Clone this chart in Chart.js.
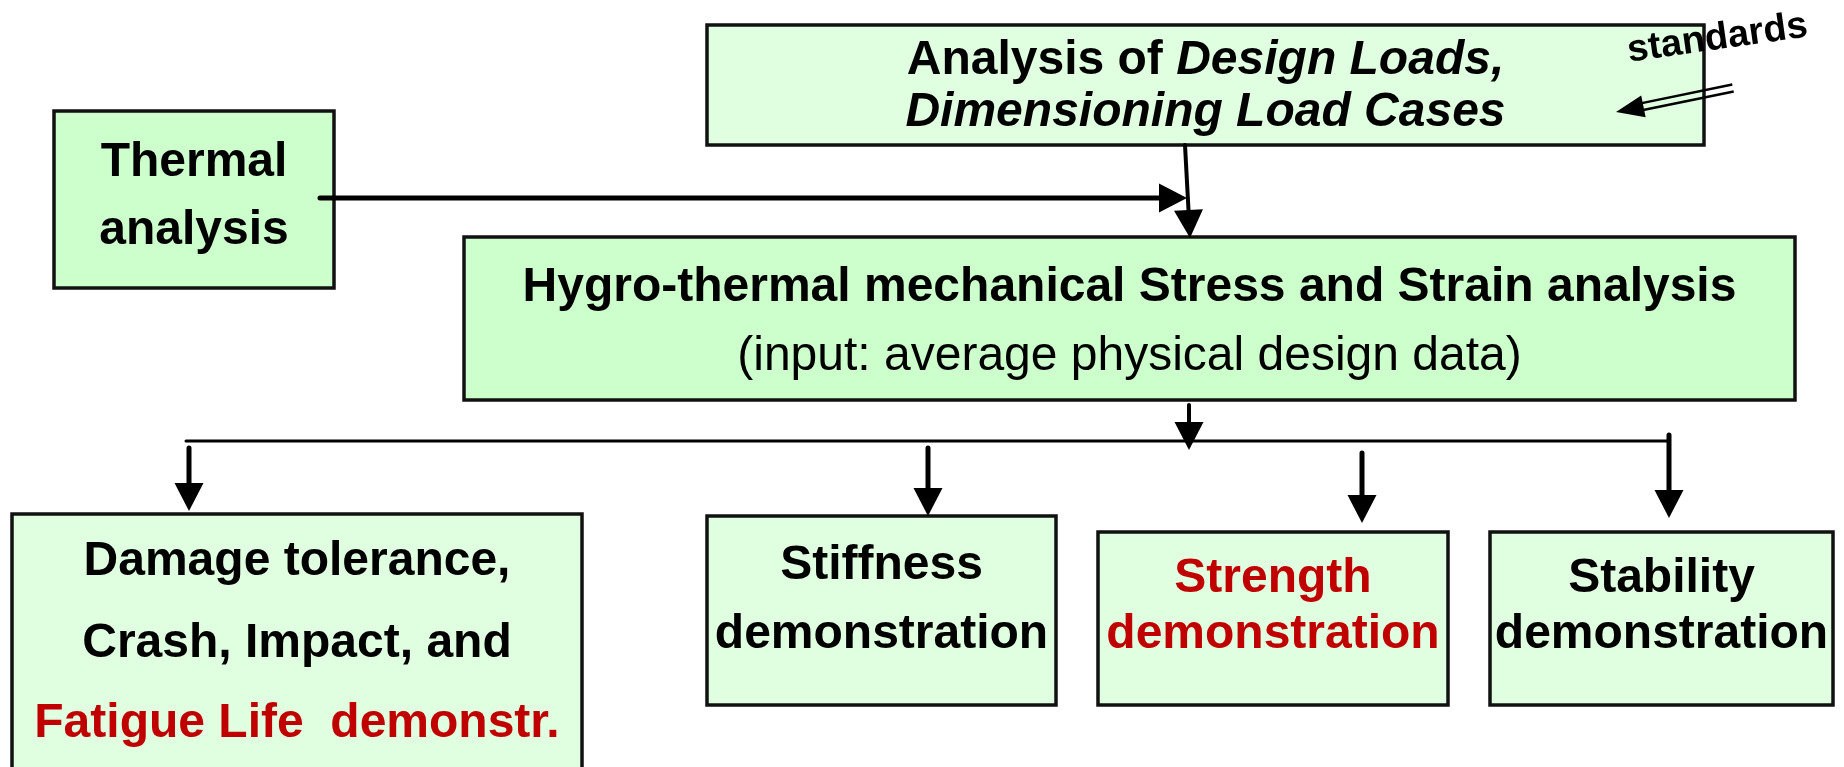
<!DOCTYPE html>
<html>
<head>
<meta charset="utf-8">
<script src="https://cdn.jsdelivr.net/npm/chart.js@4.4.1/dist/chart.umd.min.js"></script>
<style>
  html, body { margin: 0; padding: 0; background: #fff; }
  #wrap { width: 1844px; height: 767px; position: relative; }
</style>
</head>
<body>
<div id="wrap"><canvas id="flowChart"></canvas></div>
<script>
// Texte der Kästen (eine Zeile pro Eintrag)
const boxNames = ['design', 'thermal', 'hygro', 'damage', 'stiffness', 'strength', 'stability'];
const boxLines = [
  ['Analysis of Design Loads,', 'Dimensioning Load Cases'],
  ['Thermal', 'analysis'],
  ['Hygro-thermal mechanical Stress and Strain analysis', '(input: average physical design data)'],
  ['Damage tolerance,', 'Crash, Impact, and', 'Fatigue Life  demonstr.'],
  ['Stiffness', 'demonstration'],
  ['Strength', 'demonstration'],
  ['Stability', 'demonstration']
];
const italicPhrases = ['Design Loads,', 'Dimensioning Load Cases'];
const redLines = { damage: [2], strength: [0, 1] };
const sideNote = 'standards';

// Verbindungen: [von, nach]
const links = [
  ['thermal', 'hygro'],
  ['design', 'hygro'],
  ['hygro', 'bus'],
  ['bus', 'damage'],
  ['bus', 'stiffness'],
  ['bus', 'strength'],
  ['bus', 'stability']
];

// ---- Layout (Diagrammkoordinaten 0..1844 x 0..767) ----
const layout = {
  design:    { rect: [707, 25, 1704, 145],  fill: '#e0ffe0', base: [74, 126] },
  thermal:   { rect: [54, 111, 334, 288],   fill: '#ccffcc', base: [176, 244] },
  hygro:     { rect: [464, 237, 1795, 400], fill: '#ccffcc', base: [301, 370] },
  damage:    { rect: [12, 514, 582, 790],   fill: '#e0ffe0', base: [575, 657, 737] },
  stiffness: { rect: [707, 516, 1056, 705], fill: '#e0ffe0', base: [579, 648] },
  strength:  { rect: [1098, 532, 1448, 705], fill: '#e0ffe0', base: [592, 648] },
  stability: { rect: [1490, 532, 1833, 705], fill: '#e0ffe0', base: [592, 648] }
};
const arrowPaths = [
  { p: [320, 198, 1187, 198], w: 5, head: true },
  { p: [1185, 145, 1190, 238], w: 4, head: true },
  { p: [1189, 405, 1189, 450], w: 4, head: true },
  { p: [186, 441, 1669, 441], w: 3, head: false },
  { p: [189, 448, 189, 511], w: 5, head: true },
  { p: [928, 448, 928, 516], w: 5, head: true },
  { p: [1362, 453, 1362, 523], w: 5, head: true },
  { p: [1669, 435, 1669, 518], w: 5, head: true }
];
const notePos = { text: [1719, 49], angle: -8, arrow: [1733, 88, 1616, 112] };

const FONT = '"Liberation Sans", Arial, Helvetica, sans-serif';

function splitRuns(line) {
  for (const ph of italicPhrases) {
    const i = line.indexOf(ph);
    if (i >= 0) {
      const runs = [];
      if (i > 0) runs.push({ t: line.slice(0, i), it: false });
      runs.push({ t: ph, it: true });
      if (i + ph.length < line.length) runs.push({ t: line.slice(i + ph.length), it: false });
      return runs;
    }
  }
  return [{ t: line, it: false }];
}

const flowPlugin = {
  id: 'flow',
  afterDatasetsDraw(chart) {
    const ctx = chart.ctx;
    const xs = chart.scales.x, ys = chart.scales.y;
    const X = v => xs.getPixelForValue(v);
    const Y = v => ys.getPixelForValue(v);

    function arrow(x1, y1, x2, y2, w, head) {
      const ax = X(x1), ay = Y(y1), bx = X(x2), by = Y(y2);
      const dx = bx - ax, dy = by - ay, len = Math.hypot(dx, dy);
      const ux = dx / len, uy = dy / len;
      const hl = head ? 28 : 0, hw = 14.5;
      ctx.strokeStyle = '#000';
      ctx.lineWidth = w;
      ctx.lineCap = 'round';
      ctx.beginPath();
      ctx.moveTo(ax, ay);
      ctx.lineTo(bx - ux * hl * 0.6, by - uy * hl * 0.6);
      ctx.stroke();
      if (head) {
        ctx.fillStyle = '#000';
        ctx.beginPath();
        ctx.moveTo(bx, by);
        ctx.lineTo(bx - ux * hl - uy * hw, by - uy * hl + ux * hw);
        ctx.lineTo(bx - ux * hl + uy * hw, by - uy * hl - ux * hw);
        ctx.closePath();
        ctx.fill();
      }
    }

    ctx.save();
    // Kästen
    boxNames.forEach((name, bi) => {
      const L = layout[name];
      const [x1, y1, x2, y2] = L.rect;
      const px = X(x1), py = Y(y1), pw = X(x2) - px, ph = Y(y2) - py;
      ctx.fillStyle = L.fill;
      ctx.fillRect(px, py, pw, ph);
      ctx.strokeStyle = '#111';
      ctx.lineWidth = 3.5;
      ctx.strokeRect(px, py, pw, ph);

      const cx = X((x1 + x2) / 2);
      boxLines[bi].forEach((line, li) => {
        const weight = (name === 'hygro' && li === 1) ? 'normal' : 'bold';
        const red = (redLines[name] || []).includes(li);
        const runs = splitRuns(line);
        let total = 0;
        runs.forEach(r => {
          r.font = (r.it ? 'italic ' : '') + weight + ' 48px ' + FONT;
          ctx.font = r.font;
          r.w = ctx.measureText(r.t).width;
          total += r.w;
        });
        let sx = cx - total / 2;
        ctx.textBaseline = 'alphabetic';
        ctx.textAlign = 'left';
        ctx.fillStyle = red ? '#c00000' : '#000';
        runs.forEach(r => {
          ctx.font = r.font;
          ctx.fillText(r.t, sx, Y(L.base[li]));
          sx += r.w;
        });
      });
    });

    // Pfeile
    arrowPaths.forEach(a => arrow(a.p[0], a.p[1], a.p[2], a.p[3], a.w, a.head));

    // "standards" mit Doppelpfeil
    ctx.save();
    ctx.translate(X(notePos.text[0]), Y(notePos.text[1]));
    ctx.rotate(notePos.angle * Math.PI / 180);
    ctx.font = 'bold 38px ' + FONT;
    ctx.fillStyle = '#000';
    ctx.textAlign = 'center';
    ctx.textBaseline = 'alphabetic';
    ctx.fillText(sideNote, 0, 0);
    ctx.restore();

    const [sx1, sy1, sx2, sy2] = notePos.arrow;
    const ax = X(sx1), ay = Y(sy1), bx = X(sx2), by = Y(sy2);
    const len = Math.hypot(bx - ax, by - ay);
    const ux = (bx - ax) / len, uy = (by - ay) / len;
    const nx = -uy, ny = ux;
    const hl = 28, hw = 11;
    ctx.strokeStyle = '#000';
    ctx.lineWidth = 2.5;
    ctx.lineCap = 'butt';
    [-3.5, 3.5].forEach(o => {
      ctx.beginPath();
      ctx.moveTo(ax + nx * o, ay + ny * o);
      ctx.lineTo(bx - ux * hl * 0.7 + nx * o, by - uy * hl * 0.7 + ny * o);
      ctx.stroke();
    });
    ctx.fillStyle = '#000';
    ctx.beginPath();
    ctx.moveTo(bx, by);
    ctx.lineTo(bx - ux * hl + nx * hw, by - uy * hl + ny * hw);
    ctx.lineTo(bx - ux * hl - nx * hw, by - uy * hl - ny * hw);
    ctx.closePath();
    ctx.fill();
    ctx.restore();
  }
};

const ctx = document.getElementById('flowChart').getContext('2d');
const chart = new Chart(ctx, {
  type: 'scatter',
  data: {
    datasets: [{
      label: 'Knoten',
      data: boxNames.map(n => {
        const r = layout[n].rect;
        return { x: (r[0] + r[2]) / 2, y: (r[1] + r[3]) / 2 };
      }),
      pointRadius: 0
    }]
  },
  options: {
    responsive: true,
    maintainAspectRatio: false,
    animation: false,
    events: [],
    layout: { padding: 0 },
    plugins: { legend: { display: false }, tooltip: { enabled: false } },
    scales: {
      x: { type: 'linear', min: 0, max: 1844, display: false },
      y: { type: 'linear', min: 0, max: 767, reverse: true, display: false }
    }
  },
  plugins: [flowPlugin]
});
</script>
</body>
</html>
